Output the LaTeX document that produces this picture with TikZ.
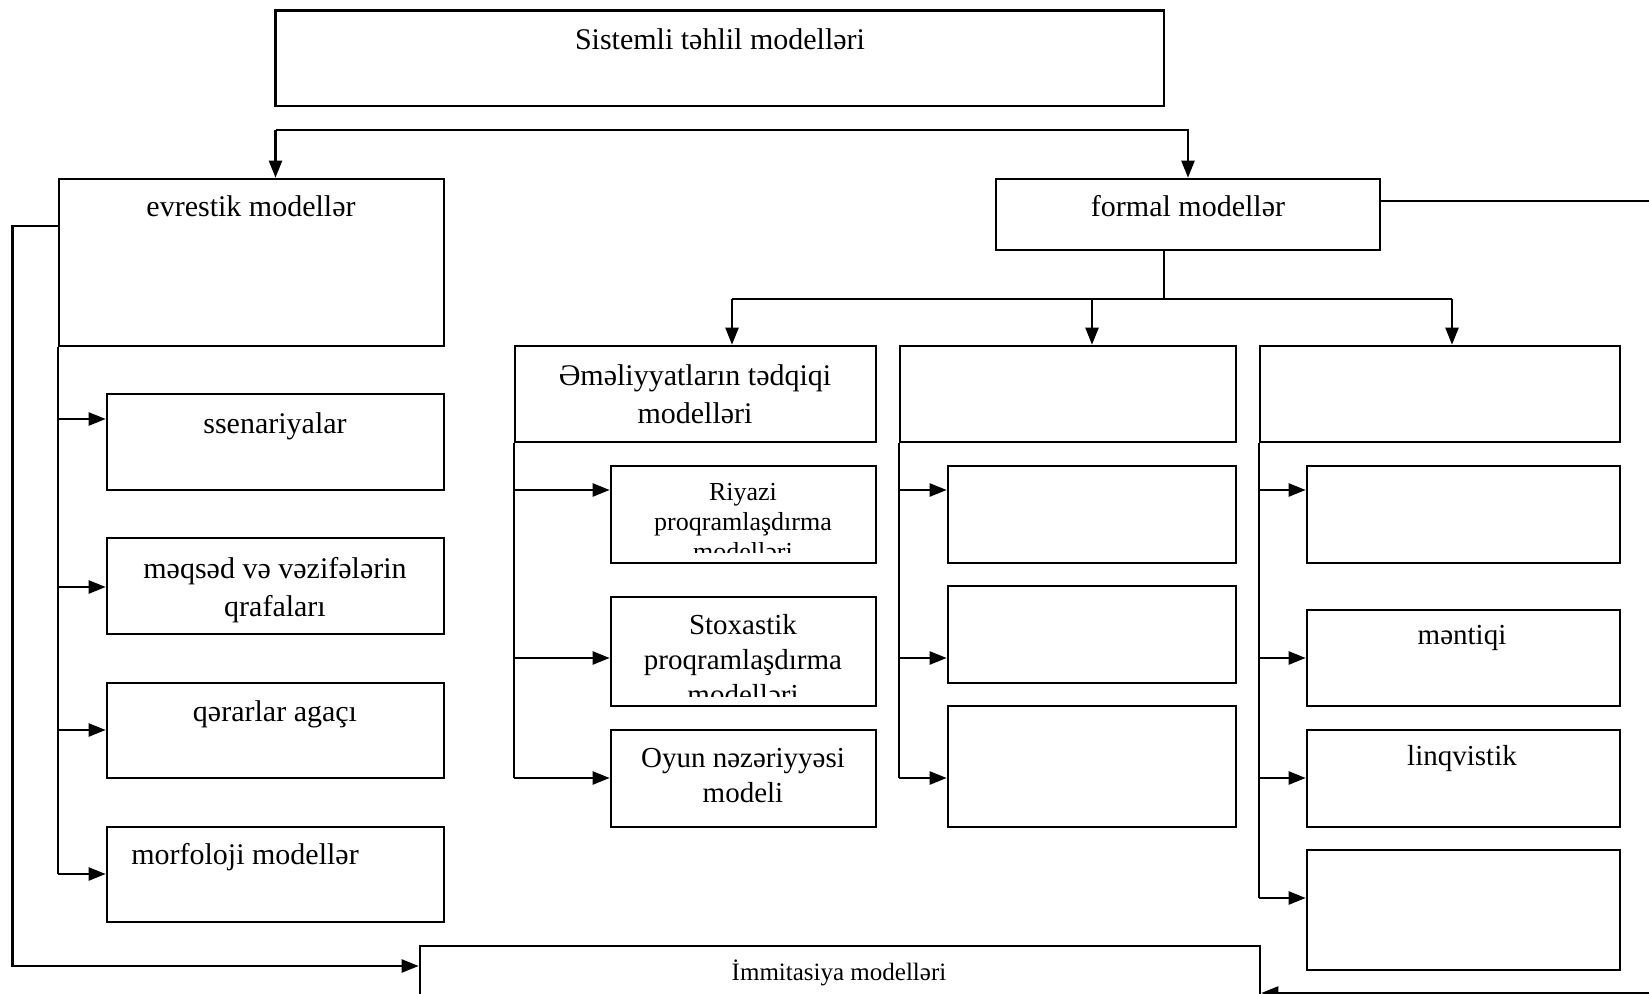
\documentclass[tikz,border=0pt]{standalone}
\usepackage{fontspec}
\setmainfont{Liberation Serif}
\usetikzlibrary{arrows.meta, positioning, fit}

\tikzset{
  box/.style={draw, line width=1.3pt, inner sep=0pt},
  lbl/.style={font=\fontsize{15}{19}\selectfont, align=center, inner sep=0pt},
  lblsm/.style={font=\fontsize{14.5}{17.5}\selectfont, align=center, inner sep=0pt},
  lblxs/.style={font=\fontsize{13}{15}\selectfont, align=center, inner sep=0pt},
  lbltiny/.style={font=\fontsize{12.5}{15}\selectfont, inner sep=0pt},
  conn/.style={line width=1.15pt},
  arr/.style={conn, -{Triangle[length=8.5pt, width=6.5pt]}},
}

\begin{document}
\begin{tikzpicture}[x=0.5pt, y=-0.5pt]
    \useasboundingbox (0,0) rectangle (1649,994);
    % Ust blok
    \node[box, fit={(275.5,10.5) (1164,106)}] (sist) {};
    \node[lbl] (sistT) at (720,39) {Sistemli təhlil modelləri};
    % Ikinci seviyye
    \node[box, fit={(59,179) (444,346)}] (evr) {};
    \node[lbl] (evrT) at (251,206) {evrestik modellər};
    \node[box, fit={(996,179) (1380,250)}] (form) {};
    \node[lbl] (formT) at (1188,206) {formal modellər};
    \coordinate (busL) at (275.5,130);
    \draw[arr] (busL) -- (busL |- evr.north);
    \draw[arr] (busL) -- (form.north |- busL) -- (form.north);
    % Evrestik qol
    \foreach \n/\t/\b in {ss/394/490, mq/538/634, qa/683/778, mf/827/922} {
      \node[box, fit={(107,\t) (444,\b)}] (\n) {};
    }
    \node[lbl] (ssT) at (275,426) {ssenariyalar};
    \node[lbl] (mqT) at (275,590) {məqsəd və vəzifələrin\\qrafaları};
    \node[lbl] (qaT) at (275,714) {qərarlar agaçı};
    \node[lbl] (mfT) at (245,857) {morfoloji modellər};
    \draw[conn] (evr.south west) -- (evr.west |- 0,874);
    \foreach \y/\n in {419/ss, 587/mq, 730/qa, 874/mf} {
      \draw[arr] (evr.west |- 0,\y) -- (\n.west |- 0,\y);
    }
    % Formal qol
    \coordinate (fJ) at (1164,299);
    \draw[conn] (fJ |- form.south) -- (fJ);
    \node[box, fit={(515,346) (876,442)}] (c2) {};
    \node[box, fit={(900,346) (1236,442)}] (c3) {};
    \node[box, fit={(1260,346) (1620,442)}] (c4) {};
    \node[lbl] (c2T) at (695,394) {Əməliyyatların tədqiqi\\modelləri};
    \draw[conn] (732,299) -- (1452,299);
    \foreach \x/\n in {732/c2, 1092/c3, 1452/c4} {
      \draw[arr] (\x,299) -- (\n.north -| \x,0);
    }
    % Emeliyyatlarin tedqiqi
    \foreach \n/\t/\b in {riy/466/563, sto/597/706, oy/730/827} {
      \node[box, fit={(611,\t) (876,\b)}] (\n) {};
    }
    \begin{scope}
      \clip (riy.north west) rectangle (876,552);
      \node[lblxs] (riyT) at (743,522) {Riyazi\\proqramlaşdırma\\modelləri};
    \end{scope}
    \begin{scope}
      \clip (sto.north west) rectangle (876,696);
      \node[lblsm] (stoT) at (743,660) {Stoxastik\\proqramlaşdırma\\modelləri};
    \end{scope}
    \node[lblsm] (oyT) at (743,776) {Oyun nəzəriyyəsi\\modeli};
    \draw[conn] (c2.south west) -- (c2.west |- 0,778);
    \foreach \y/\n in {490/riy, 658/sto, 778/oy} {
      \draw[arr] (c2.west |- 0,\y) -- (\n.west |- 0,\y);
    }
    % Ucuncu sutun
    \foreach \n/\t/\b in {d1/466/563, d2/586/683, d3/706/827} {
      \node[box, fit={(948,\t) (1236,\b)}] (\n) {};
    }
    \draw[conn] (c3.south west) -- (c3.west |- 0,778);
    \foreach \y/\n in {490/d1, 658/d2, 778/d3} {
      \draw[arr] (c3.west |- 0,\y) -- (\n.west |- 0,\y);
    }
    % Dorduncu sutun
    \foreach \n/\t/\b in {e1/466/563, e2/610/706, e3/730/827, e4/850/970} {
      \node[box, fit={(1307,\t) (1620,\b)}] (\n) {};
    }
    \node[lblsm] (e2T) at (1462,638) {məntiqi};
    \node[lblsm] (e3T) at (1462,759) {linqvistik};
    \draw[conn] (c4.south west) -- (c4.west |- 0,898);
    \foreach \y/\n in {490/e1, 658/e2, 778/e3, 898/e4} {
      \draw[arr] (c4.west |- 0,\y) -- (\n.west |- 0,\y);
    }
    % Immitasiya
    \node[box, fit={(420,946) (1260,1010)}] (imm) {};
    \node[lbltiny] (immT) at (839,973) {İmmitasiya modelləri};
    \draw[arr] (evr.west |- 0,226) -| (12.6,966) -- (imm.west |- 0,966);
    \draw[arr] (form.east |- 0,201) -- (1700,201) |- (imm.east |- 0,993);
  \end{tikzpicture}
\end{document}
